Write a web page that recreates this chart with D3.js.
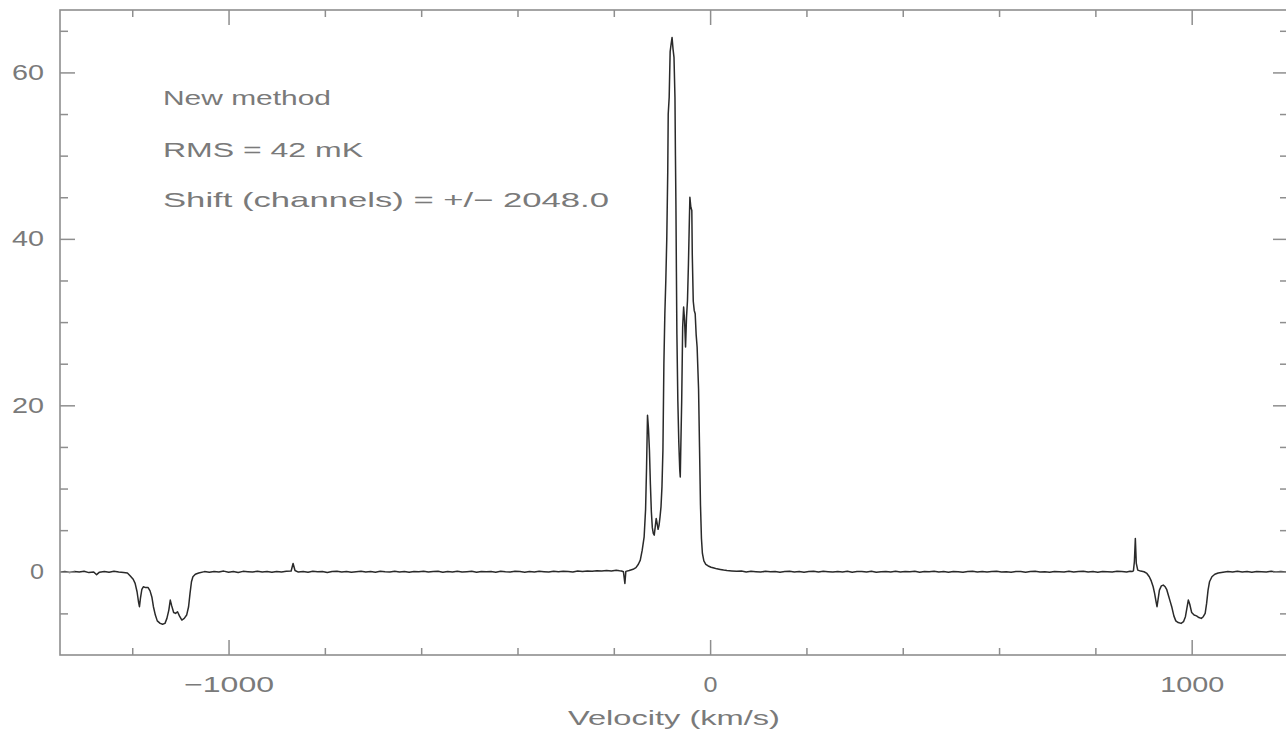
<!DOCTYPE html>
<html><head><meta charset="utf-8">
<script src="https://cdn.jsdelivr.net/npm/d3@7"></script>
<style>
html,body{margin:0;padding:0;background:#fff;}
svg{display:block;}
text{font-family:"Liberation Sans",Arial,sans-serif;fill:#7a7a7a;}
</style></head><body>
<svg id="chart" width="1286" height="733"></svg>
<script>
// Spectrum segments: [velocity (km/s), temperature]
const leftWing = [[-1350,-0.05],[-1340,0.02],[-1330,-0.08],[-1320,0.04],[-1310,-0.03],[-1300,0.06],[-1290,-0.1],[-1280,-0.02],[-1274,-0.35],[-1268,-0.05],[-1258,0.03],[-1248,-0.06],[-1238,0.05],[-1228,-0.04],[-1218,-0.1],[-1210,-0.15]];
const leftAbsorption = [[-1204,-0.5],[-1198,-0.9],[-1194,-1.4],[-1190,-2.4],[-1187,-3.6],[-1185,-4.2],[-1183,-3.2],[-1180,-2.1],[-1177,-1.8],[-1172,-1.9],[-1167,-1.9],[-1163,-2.3],[-1159,-3.1],[-1156,-4.2],[-1152,-5.2],[-1148,-5.9],[-1142,-6.2],[-1137,-6.3],[-1132,-6.2],[-1128,-5.6],[-1124,-4.6],[-1121,-3.4],[-1118,-4.1],[-1114,-4.9],[-1110,-5.0],[-1106,-4.8],[-1102,-5.3],[-1097,-5.8],[-1092,-5.6],[-1087,-5.2],[-1083,-4.2],[-1080,-2.6],[-1077,-1.2],[-1074,-0.6],[-1069,-0.3],[-1062,-0.15]];
const midBaseline = [[-1050,0.02],[-1040,-0.06],[-1030,0.04],[-1020,-0.02],[-1010,0.08],[-1000,-0.05],[-990,0.03],[-980,-0.09],[-970,0.05],[-960,0.01],[-950,-0.04],[-940,0.07],[-930,-0.03],[-920,0.02],[-910,-0.07],[-900,0.04],[-890,-0.02],[-880,0.06],[-870,0.1],[-866,1.0],[-862,0.15],[-855,-0.04],[-845,0.03],[-835,-0.06],[-825,0.05],[-815,-0.01],[-805,0.04],[-795,-0.08],[-785,0.02],[-775,0.06],[-765,-0.03],[-755,0.04],[-745,-0.05],[-735,0.01],[-725,0.07],[-715,-0.04],[-705,0.02],[-695,-0.06],[-685,0.05],[-675,0.0],[-665,-0.03],[-655,0.06],[-645,-0.02],[-635,0.03],[-625,-0.07],[-615,0.04],[-605,-0.01],[-595,0.05],[-585,-0.04],[-575,0.02],[-565,0.07],[-555,-0.05],[-545,0.03],[-535,-0.02],[-525,0.06],[-515,-0.03],[-505,0.01],[-495,0.05],[-485,-0.06],[-475,0.04],[-465,-0.01],[-455,0.03],[-445,-0.05],[-435,0.06],[-425,0.0],[-415,-0.04],[-405,0.05],[-395,0.02],[-385,-0.06],[-375,0.04],[-365,-0.02],[-355,0.07],[-345,0.01],[-335,-0.04],[-325,0.05],[-315,-0.01],[-305,0.06],[-295,0.02],[-285,-0.03],[-275,0.08],[-265,0.03],[-255,0.1],[-245,0.05],[-235,0.12],[-225,0.08],[-215,0.15],[-205,0.1],[-195,0.18],[-188,0.12]];
const centralEmission = [[-184,0.1],[-180,0.0],[-177,-1.4],[-175,0.05],[-168,0.15],[-160,0.3],[-154,0.5],[-149,0.9],[-145,1.4],[-141,2.6],[-137,4.2],[-134,7.5],[-132,12.5],[-130,18.8],[-128,17.2],[-126,14.6],[-124,10.5],[-122,7.2],[-120,5.3],[-118,4.6],[-116,4.4],[-114,5.4],[-112,6.4],[-110,5.8],[-108,5.1],[-106,5.6],[-104,6.6],[-102,7.8],[-100,10.2],[-98,14.6],[-96,25],[-94,31],[-92,35],[-90,40],[-88,48],[-87,55],[-85,57],[-83,62.5],[-81,63.4],[-79,64.2],[-77,62.8],[-75,61.8],[-73,57],[-72,50],[-71,44],[-70,36],[-69,28.6],[-67,20.5],[-65,15.5],[-63,12.2],[-62,11.4],[-61,14.5],[-59,20.6],[-57,29.4],[-55,31.8],[-53,30.2],[-51,27],[-49,30.6],[-47,32.6],[-45,37],[-43,42.5],[-42,45],[-40,43.8],[-38,43.4],[-37,38],[-35,32.5],[-33,31.4],[-31,31],[-29,28.5],[-27,27],[-24,22],[-22,15],[-20,8],[-18,4],[-16,2.2],[-13,1.3],[-9,0.9],[-4,0.7],[2,0.55],[8,0.45],[14,0.35],[21,0.28],[28,0.2]];
const rightBaseline = [[35,0.15],[45,0.1],[55,0.06],[65,0.08],[75,-0.02],[85,0.05],[95,0.01],[105,-0.04],[115,0.06],[125,0.0],[135,0.04],[145,-0.05],[155,0.03],[165,0.07],[175,-0.02],[185,0.04],[195,-0.06],[205,0.02],[215,0.05],[225,-0.03],[235,0.06],[245,0.01],[255,-0.04],[265,0.03],[275,-0.02],[285,0.06],[295,-0.05],[305,0.02],[315,0.04],[325,-0.03],[335,0.05],[345,-0.06],[355,0.01],[365,0.04],[375,-0.02],[385,0.06],[395,-0.04],[405,0.02],[415,0.0],[425,0.05],[435,-0.07],[445,0.03],[455,-0.01],[465,0.06],[475,-0.03],[485,0.02],[495,-0.05],[505,0.04],[515,0.01],[525,-0.06],[535,0.03],[545,0.05],[555,-0.02],[565,0.04],[575,-0.04],[585,0.02],[595,0.06],[605,-0.03],[615,0.01],[625,-0.05],[635,0.04],[645,0.02],[655,-0.06],[665,0.03],[675,0.05],[685,-0.02],[695,0.01],[705,-0.05],[715,0.04],[725,0.0],[735,-0.03],[745,0.05],[755,-0.04],[765,0.02],[775,0.06],[785,-0.02],[795,0.03],[805,-0.05],[815,0.04],[825,0.01],[835,-0.03],[845,0.05],[855,0.02],[865,-0.02],[872,0.06]];
const rightSpike = [[876,0.02],[879,0.1],[881,1.2],[883,4.0],[885,1.0],[888,0.2],[894,0.08],[901,0.0]];
const rightAbsorption = [[907,-0.2],[912,-0.6],[916,-1.1],[920,-1.8],[923,-2.6],[926,-3.6],[928,-4.2],[930,-3.4],[933,-2.2],[937,-1.7],[941,-1.6],[945,-1.8],[948,-2.1],[951,-2.7],[955,-3.5],[959,-4.3],[963,-5.3],[967,-5.9],[972,-6.1],[978,-6.2],[983,-6.0],[987,-5.4],[990,-4.4],[993,-3.4],[996,-3.9],[1000,-4.9],[1005,-5.2],[1010,-5.3],[1015,-5.5],[1020,-5.6],[1024,-5.4],[1028,-5.0],[1031,-3.8],[1034,-2.2],[1037,-1.2],[1042,-0.6],[1048,-0.3],[1055,-0.15]];
const rightWing = [[1065,-0.05],[1075,0.02],[1085,-0.04],[1095,0.05],[1105,-0.02],[1115,0.03],[1125,-0.06],[1135,0.04],[1145,0.0],[1155,-0.03],[1165,0.05],[1175,-0.02],[1185,0.03],[1195,-0.04],[1205,0.02]];

// Axis ticks and labels
const xMajorTicks = [-1000, 0, 1000];
const xMinorTicks = [-1200, -800, -600, -400, -200, 200, 400, 600, 800];
const yMajorTicks = [0, 20, 40, 60];
const yMinorTicks = [-5, 5, 10, 15, 25, 30, 35, 45, 50, 55, 65];
const xLabel = "Velocity (km/s)";
const notes = ["New method", "RMS = 42 mK", "Shift (channels) = +/\u2212 2048.0"];

const spectrum = [].concat(leftWing, leftAbsorption, midBaseline, centralEmission,
  rightBaseline, rightSpike, rightAbsorption, rightWing);

const svg = d3.select("#chart");
const L = 60, R = 1288, T = 10, B = 655;
const x = d3.scaleLinear().domain([-1350, 1200]).range([L, R]);
const y = d3.scaleLinear().domain([-10, 67.5]).range([B, T]);
const tickFmt = d3.format("d");

const frameColor = "#8e8e8e";

svg.append("clipPath").attr("id", "plotArea")
  .append("rect").attr("x", L).attr("y", T).attr("width", R - L).attr("height", B - T);

// spectrum trace
svg.append("path")
  .datum(spectrum)
  .attr("clip-path", "url(#plotArea)")
  .attr("fill", "none")
  .attr("stroke", "#2a2a2a")
  .attr("stroke-width", 1.5)
  .attr("stroke-linejoin", "round")
  .attr("d", d3.line().x(d => x(d[0])).y(d => y(d[1])));

// frame
svg.append("rect")
  .attr("x", L).attr("y", T).attr("width", R - L).attr("height", B - T)
  .attr("fill", "none").attr("stroke", frameColor).attr("stroke-width", 1.6);

const labelWidth = s => s.replace("\u2212", "").length * 16 + (s.includes("\u2212") ? 26 : 0) - (s.length === 1 ? 2 : 0);

function styleAxis(g, withLabels) {
  g.select(".domain").remove();
  g.selectAll(".tick line").attr("stroke", frameColor).attr("stroke-width", 1.5);
  if (withLabels) {
    g.selectAll(".tick text")
      .attr("fill", "#7a7a7a")
      .style("font-size", "22px")
      .attr("textLength", function () { return labelWidth(this.textContent); })
      .attr("lengthAdjust", "spacingAndGlyphs");
  } else {
    g.selectAll(".tick text").remove();
  }
}

// bottom
svg.append("g").attr("transform", `translate(0,${B})`)
  .call(d3.axisBottom(x).tickValues(xMinorTicks).tickSize(-7).tickFormat(""))
  .call(g => styleAxis(g, false));
svg.append("g").attr("transform", `translate(0,${B})`)
  .call(d3.axisBottom(x).tickValues(xMajorTicks).tickSize(-15).tickPadding(21).tickFormat(tickFmt))
  .call(g => styleAxis(g, true));
// top
svg.append("g").attr("transform", `translate(0,${T})`)
  .call(d3.axisTop(x).tickValues(xMinorTicks).tickSize(-7).tickFormat(""))
  .call(g => styleAxis(g, false));
svg.append("g").attr("transform", `translate(0,${T})`)
  .call(d3.axisTop(x).tickValues(xMajorTicks).tickSize(-15).tickFormat(""))
  .call(g => styleAxis(g, false));
// left
svg.append("g").attr("transform", `translate(${L},0)`)
  .call(d3.axisLeft(y).tickValues(yMinorTicks).tickSize(-8).tickFormat(""))
  .call(g => styleAxis(g, false));
svg.append("g").attr("transform", `translate(${L},0)`)
  .call(d3.axisLeft(y).tickValues(yMajorTicks).tickSize(-15).tickPadding(16).tickFormat(tickFmt))
  .call(g => styleAxis(g, true));
// right
svg.append("g").attr("transform", `translate(${R},0)`)
  .call(d3.axisRight(y).tickValues(yMinorTicks).tickSize(-8).tickFormat(""))
  .call(g => styleAxis(g, false));
svg.append("g").attr("transform", `translate(${R},0)`)
  .call(d3.axisRight(y).tickValues(yMajorTicks).tickSize(-15).tickFormat(""))
  .call(g => styleAxis(g, false));

// axis title
svg.append("text")
  .attr("x", (L + R) / 2).attr("y", 725)
  .attr("text-anchor", "middle")
  .style("font-size", "21px")
  .attr("textLength", 212).attr("lengthAdjust", "spacingAndGlyphs")
  .text(xLabel);

// annotations
const noteWidths = [168, 200, 446];
const noteBaselines = [105, 156.5, 206.5];
notes.forEach((t, i) => {
  svg.append("text")
    .attr("x", 163).attr("y", noteBaselines[i])
    .style("font-size", "21px")
    .attr("textLength", noteWidths[i]).attr("lengthAdjust", "spacingAndGlyphs")
    .text(t);
});
</script></body></html>
